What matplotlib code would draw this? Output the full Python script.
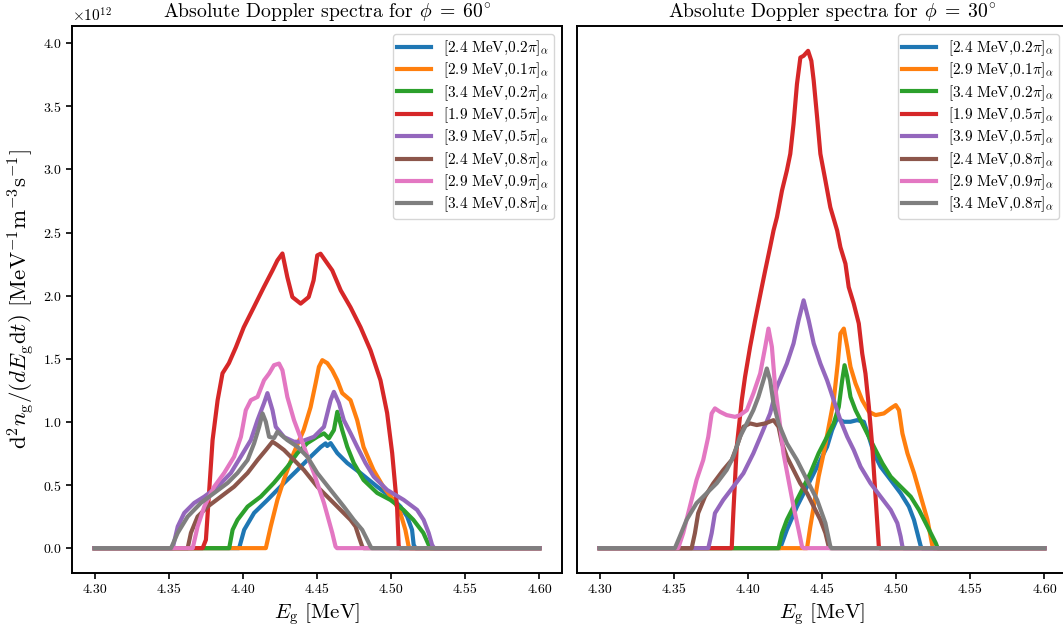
"""Absolute Doppler spectra of the gamma line for two viewing angles."""

import matplotlib

matplotlib.use("Agg")

import matplotlib.pyplot as plt

plt.rcParams["font.family"] = "serif"
plt.rcParams["font.serif"] = ["cmr10"]
plt.rcParams["mathtext.fontset"] = "cm"
plt.rcParams["axes.formatter.use_mathtext"] = True
plt.rcParams["axes.unicode_minus"] = False

# Series labels: [alpha energy, pitch angle]
labels = [
    r"$[2.4\ \mathrm{MeV}{,}0.2\pi]_\alpha$",
    r"$[2.9\ \mathrm{MeV}{,}0.1\pi]_\alpha$",
    r"$[3.4\ \mathrm{MeV}{,}0.2\pi]_\alpha$",
    r"$[1.9\ \mathrm{MeV}{,}0.5\pi]_\alpha$",
    r"$[3.9\ \mathrm{MeV}{,}0.5\pi]_\alpha$",
    r"$[2.4\ \mathrm{MeV}{,}0.8\pi]_\alpha$",
    r"$[2.9\ \mathrm{MeV}{,}0.9\pi]_\alpha$",
    r"$[3.4\ \mathrm{MeV}{,}0.8\pi]_\alpha$",
]

# ---- phi = 60 deg: gamma energy [MeV] and spectrum [1e12 MeV^-1 m^-3 s^-1]
e60_a = [4.30, 4.3975, 4.4009, 4.4076, 4.4166, 4.4278, 4.4368, 4.4457, 4.4525, 4.4558,
         4.4569, 4.4592, 4.4637, 4.4704, 4.4793, 4.4906, 4.4995, 4.5063, 4.5108, 4.5141,
         4.5152, 4.5165, 4.60]
v60_a = [0, 0, 0.145, 0.279, 0.382, 0.516, 0.619, 0.724, 0.801, 0.830,
         0.809, 0.832, 0.753, 0.674, 0.595, 0.487, 0.408, 0.329, 0.250, 0.145,
         0.026, 0, 0]

e60_b = [4.30, 4.4155, 4.4188, 4.4233, 4.4276, 4.4343, 4.4410, 4.4457, 4.4491, 4.4513,
         4.4536, 4.4570, 4.4603, 4.4637, 4.4670, 4.4726, 4.4771, 4.4814, 4.4881, 4.4948,
         4.5015, 4.5062, 4.5096, 4.5118, 4.5130, 4.60]
v60_b = [0, 0, 0.171, 0.382, 0.540, 0.753, 0.935, 1.117, 1.307, 1.436,
         1.489, 1.465, 1.409, 1.330, 1.228, 1.172, 1.014, 0.801, 0.619, 0.485,
         0.382, 0.279, 0.145, 0.013, 0, 0]

e60_c = [4.30, 4.3908, 4.3931, 4.3964, 4.4032, 4.4121, 4.4209, 4.4301, 4.4368, 4.4435,
         4.4502, 4.4547, 4.4580, 4.4614, 4.4637, 4.4670, 4.4704, 4.4748, 4.4814, 4.4906,
         4.4995, 4.5083, 4.5150, 4.5217, 4.5253, 4.5265, 4.60]
v60_c = [0, 0, 0.145, 0.224, 0.329, 0.408, 0.516, 0.645, 0.753, 0.832,
         0.882, 0.909, 0.870, 0.935, 1.080, 0.935, 0.803, 0.674, 0.540, 0.437,
         0.382, 0.303, 0.224, 0.121, 0.026, 0, 0]

e60_d = [4.30, 4.3729, 4.3751, 4.3796, 4.3830, 4.3863, 4.3906, 4.3953, 4.4006, 4.4074,
         4.4141, 4.4200, 4.4233, 4.4267, 4.4300, 4.4334, 4.4390, 4.4444, 4.4477, 4.4502,
         4.4524, 4.4570, 4.4603, 4.4660, 4.4726, 4.4794, 4.4861, 4.4928, 4.4973, 4.5007,
         4.5040, 4.5051, 4.5060, 4.60]
v60_d = [0, 0, 0.066, 0.856, 1.172, 1.385, 1.465, 1.591, 1.749, 1.908,
         2.066, 2.200, 2.279, 2.334, 2.147, 1.989, 1.937, 1.989, 2.121, 2.319,
         2.332, 2.255, 2.200, 2.042, 1.908, 1.749, 1.567, 1.330, 1.070, 0.753,
         0.326, 0.010, 0, 0]

e60_e = [4.30, 4.3527, 4.3561, 4.3605, 4.3672, 4.3740, 4.3830, 4.3919, 4.3986, 4.4054,
         4.4099, 4.4143, 4.4166, 4.4200, 4.4222, 4.4278, 4.4345, 4.4390, 4.4480, 4.4547,
         4.4592, 4.4614, 4.4648, 4.4681, 4.4726, 4.4771, 4.4827, 4.4883, 4.4973, 4.5085,
         4.5175, 4.5219, 4.5253, 4.5276, 4.5290, 4.60]
v60_e = [0, 0, 0.171, 0.279, 0.358, 0.408, 0.487, 0.595, 0.724, 0.856,
         1.014, 1.149, 1.228, 1.093, 0.961, 0.880, 0.843, 0.843, 0.882, 0.961,
         1.172, 1.238, 1.149, 1.014, 0.911, 0.803, 0.674, 0.566, 0.461, 0.382,
         0.303, 0.224, 0.121, 0.026, 0, 0]

e60_f = [4.30, 4.3628, 4.3650, 4.3695, 4.3763, 4.3852, 4.3941, 4.4032, 4.4099, 4.4155,
         4.4200, 4.4233, 4.4278, 4.4345, 4.4412, 4.4502, 4.4592, 4.4659, 4.4726, 4.4760,
         4.4782, 4.4805, 4.4815, 4.60]
v60_f = [0, 0, 0.121, 0.250, 0.329, 0.408, 0.487, 0.595, 0.698, 0.777,
         0.843, 0.817, 0.777, 0.698, 0.619, 0.487, 0.382, 0.303, 0.224, 0.171,
         0.092, 0.013, 0, 0]

e60_g = [4.30, 4.3662, 4.3695, 4.3740, 4.3807, 4.3874, 4.3941, 4.3987, 4.4020, 4.4054,
         4.4099, 4.4143, 4.4177, 4.4210, 4.4244, 4.4267, 4.4300, 4.4345, 4.4412, 4.4479,
         4.4547, 4.4603, 4.4625, 4.4635, 4.60]
v60_g = [0, 0, 0.171, 0.329, 0.487, 0.595, 0.724, 0.882, 1.093, 1.172,
         1.198, 1.330, 1.383, 1.449, 1.462, 1.409, 1.198, 1.014, 0.803, 0.595,
         0.358, 0.121, 0.013, 0, 0]

e60_h = [4.30, 4.3516, 4.3561, 4.3628, 4.3717, 4.3807, 4.3897, 4.3964, 4.4032, 4.4076,
         4.4110, 4.4133, 4.4155, 4.4177, 4.4211, 4.4233, 4.4300, 4.4368, 4.4435, 4.4502,
         4.4592, 4.4681, 4.4748, 4.4805, 4.4839, 4.4861, 4.4870, 4.60]
v60_h = [0, 0, 0.121, 0.250, 0.358, 0.437, 0.516, 0.595, 0.698, 0.830,
         0.961, 1.067, 1.001, 0.882, 0.872, 0.922, 0.856, 0.803, 0.724, 0.595,
         0.461, 0.329, 0.224, 0.145, 0.066, 0.013, 0, 0]

# ---- phi = 30 deg
e30_a = [4.30, 4.4218, 4.4263, 4.4331, 4.4399, 4.4467, 4.4534, 4.4568, 4.4602, 4.4647,
         4.4692, 4.4737, 4.4782, 4.4816, 4.4850, 4.4895, 4.4963, 4.5030, 4.5086, 4.5120,
         4.5143, 4.5166, 4.5175, 4.60]
v30_a = [0, 0, 0.145, 0.329, 0.487, 0.645, 0.803, 0.935, 1.028, 1.001,
         1.001, 1.014, 1.001, 0.882, 0.751, 0.645, 0.540, 0.435, 0.329, 0.224,
         0.119, 0.013, 0, 0]

e30_b = [4.30, 4.4399, 4.4421, 4.4444, 4.4477, 4.4511, 4.4545, 4.4579, 4.4606, 4.4624,
         4.4647, 4.4670, 4.4692, 4.4726, 4.4771, 4.4816, 4.4861, 4.4917, 4.4963, 4.4997,
         4.5019, 4.5042, 4.5076, 4.5121, 4.5166, 4.5211, 4.5245, 4.5255, 4.60]
v30_b = [0, 0, 0.171, 0.329, 0.566, 0.751, 0.961, 1.172, 1.462, 1.700,
         1.739, 1.594, 1.436, 1.304, 1.172, 1.080, 1.054, 1.067, 1.107, 1.133,
         1.093, 0.909, 0.751, 0.593, 0.408, 0.224, 0.013, 0, 0]

e30_c = [4.30, 4.4207, 4.4230, 4.4263, 4.4308, 4.4365, 4.4421, 4.4477, 4.4534, 4.4579,
         4.4613, 4.4636, 4.4652, 4.4670, 4.4692, 4.4726, 4.4771, 4.4816, 4.4861, 4.4907,
         4.4963, 4.5030, 4.5098, 4.5154, 4.5211, 4.5267, 4.5280, 4.60]
v30_c = [0, 0, 0.119, 0.224, 0.329, 0.461, 0.593, 0.751, 0.882, 0.988,
         1.119, 1.330, 1.449, 1.357, 1.198, 1.093, 0.988, 0.882, 0.777, 0.672,
         0.566, 0.487, 0.408, 0.303, 0.171, 0.040, 0, 0]

e30_d = [4.30, 4.3891, 4.3902, 4.3925, 4.3959, 4.3981, 4.4015, 4.4049, 4.4094, 4.4117,
         4.4150, 4.4173, 4.4196, 4.4230, 4.4263, 4.4286, 4.4308, 4.4331, 4.4354, 4.4376,
         4.4406, 4.4428, 4.4444, 4.4467, 4.4489, 4.4523, 4.4556, 4.4602, 4.4624, 4.4658,
         4.4680, 4.4714, 4.4748, 4.4771, 4.4793, 4.4816, 4.4839, 4.4861, 4.4883, 4.4890,
         4.60]
v30_d = [0, 0, 0.279, 0.803, 1.172, 1.357, 1.594, 1.805, 2.068, 2.200,
         2.384, 2.516, 2.621, 2.832, 2.991, 3.123, 3.360, 3.676, 3.886, 3.900,
         3.939, 3.860, 3.702, 3.412, 3.123, 2.911, 2.700, 2.516, 2.384, 2.253,
         2.068, 1.937, 1.779, 1.542, 1.383, 1.119, 0.803, 0.408, 0.013, 0,
         0]

e30_e = [4.30, 4.3733, 4.3756, 4.3778, 4.3834, 4.3902, 4.3970, 4.4037, 4.4094, 4.4150,
         4.4196, 4.4263, 4.4308, 4.4342, 4.4376, 4.4410, 4.4444, 4.4489, 4.4534, 4.4579,
         4.4624, 4.4670, 4.4714, 4.4760, 4.4827, 4.4895, 4.4963, 4.5008, 4.5030, 4.5042,
         4.5050, 4.60]
v30_e = [0, 0, 0.119, 0.277, 0.382, 0.487, 0.593, 0.751, 0.909, 1.067,
         1.277, 1.462, 1.621, 1.805, 1.963, 1.805, 1.621, 1.462, 1.330, 1.172,
         1.014, 0.882, 0.777, 0.645, 0.514, 0.408, 0.303, 0.198, 0.092, 0.013,
         0, 0]

e30_f = [4.30, 4.3621, 4.3643, 4.3665, 4.3711, 4.3767, 4.3834, 4.3891, 4.3925, 4.3970,
         4.4015, 4.4060, 4.4117, 4.4173, 4.4207, 4.4230, 4.4263, 4.4308, 4.4353, 4.4399,
         4.4444, 4.4489, 4.4523, 4.4545, 4.4555, 4.60]
v30_f = [0, 0, 0.119, 0.277, 0.408, 0.514, 0.619, 0.698, 0.803, 0.961,
         0.988, 0.975, 0.988, 1.014, 0.961, 0.830, 0.724, 0.619, 0.514, 0.435,
         0.329, 0.224, 0.119, 0.013, 0, 0]

e30_g = [4.30, 4.3530, 4.3564, 4.3609, 4.3654, 4.3699, 4.3733, 4.3756, 4.3778, 4.3812,
         4.3857, 4.3914, 4.3947, 4.3993, 4.4037, 4.4083, 4.4117, 4.4139, 4.4162, 4.4184,
         4.4207, 4.4240, 4.4274, 4.4308, 4.4342, 4.4365, 4.4375, 4.60]
v30_g = [0, 0, 0.119, 0.329, 0.540, 0.698, 0.882, 1.067, 1.107, 1.080,
         1.054, 1.040, 1.054, 1.093, 1.225, 1.383, 1.594, 1.739, 1.594, 1.277,
         1.067, 0.751, 0.540, 0.329, 0.145, 0.013, 0, 0]

e30_h = [4.30, 4.3508, 4.3541, 4.3587, 4.3654, 4.3722, 4.3790, 4.3857, 4.3902, 4.3947,
         4.3993, 4.4037, 4.4071, 4.4105, 4.4128, 4.4150, 4.4173, 4.4207, 4.4263, 4.4331,
         4.4399, 4.4467, 4.4523, 4.4556, 4.4565, 4.60]
v30_h = [0, 0, 0.092, 0.224, 0.356, 0.435, 0.514, 0.619, 0.724, 0.882,
         0.988, 1.093, 1.198, 1.330, 1.423, 1.330, 1.146, 0.988, 0.830, 0.698,
         0.540, 0.382, 0.198, 0.013, 0, 0]

series_60 = [(e60_a, v60_a), (e60_b, v60_b), (e60_c, v60_c), (e60_d, v60_d),
             (e60_e, v60_e), (e60_f, v60_f), (e60_g, v60_g), (e60_h, v60_h)]
series_30 = [(e30_a, v30_a), (e30_b, v30_b), (e30_c, v30_c), (e30_d, v30_d),
             (e30_e, v30_e), (e30_f, v30_f), (e30_g, v30_g), (e30_h, v30_h)]

SCALE = 1e12
colors = plt.rcParams["axes.prop_cycle"].by_key()["color"][:8]

fig = plt.figure(figsize=(10.63, 6.34), dpi=100)
ax1 = fig.add_axes([0.068, 0.0962, 0.4604, 0.8628])
ax2 = fig.add_axes([0.5431, 0.0962, 0.4604, 0.8628], sharey=ax1)

for ax, series, phi in [(ax1, series_60, 60), (ax2, series_30, 30)]:
    for (e, v), lab, col in zip(series, labels, colors):
        ax.plot(e, [x * SCALE for x in v], color=col, lw=3, label=lab)
    ax.set_title(r"Absolute Doppler spectra for $\phi\;=\;%d^{\circ}$" % phi,
                 fontsize=14.2, x=0.52)
    ax.set_xlabel(r"$E_\mathrm{g}$ [MeV]", fontsize=15)
    ax.set_xticks([4.30, 4.35, 4.40, 4.45, 4.50, 4.55, 4.60])
    ax.set_xticklabels(["4.30", "4.35", "4.40", "4.45", "4.50", "4.55", "4.60"])
    ax.tick_params(labelsize=10, width=1.2, length=4)
    for sp in ax.spines.values():
        sp.set_linewidth(1.4)
    ax.legend(loc="upper right", fontsize=11, handlelength=2.2,
              labelspacing=0.18, borderpad=0.3)

ax1.set_yticks([0, 0.5e12, 1.0e12, 1.5e12, 2.0e12, 2.5e12, 3.0e12, 3.5e12, 4.0e12])
ax1.set_ylabel(r"$\mathrm{d}^2n_\mathrm{g}/(dE_\mathrm{g}\mathrm{d}t)$ "
               r"[MeV$^{-1}$m$^{-3}$s$^{-1}$]", fontsize=16.5)
ax1.yaxis.get_offset_text().set_fontsize(11)
ax2.tick_params(axis="y", left=False, labelleft=False)

fig.savefig("out.png", dpi=100)
